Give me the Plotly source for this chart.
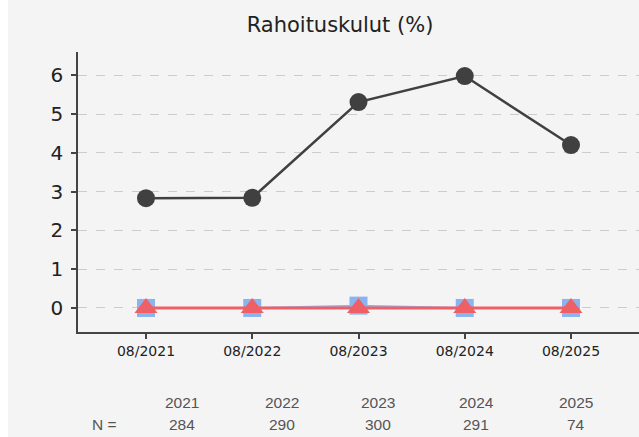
import plotly.graph_objects as go

# data
kaudet = ["08/2021", "08/2022", "08/2023", "08/2024", "08/2025"]
sarja_musta = [2.83, 2.84, 5.31, 5.98, 4.2]
sarja_sininen = [0.0, 0.0, 0.06, 0.0, 0.0]
sarja_punainen = [0.0, 0.0, 0.0, 0.0, 0.0]
vuodet = ["2021", "2022", "2023", "2024", "2025"]
n_arvot = ["284", "290", "300", "291", "74"]

# sivun vasen reunus (body margin) on 8 px
OFF = 8
W, H = 639 - OFF, 437
L, R, T, B = 78 - OFF, 0, 52, 105
pw = W - L - R
ph = H - T - B

fig = go.Figure()

fig.add_trace(go.Scatter(
    x=list(range(len(kaudet))), y=sarja_musta, mode="lines+markers",
    line=dict(color="#404040", width=2.5),
    marker=dict(symbol="circle", size=18, color="#404040"),
    showlegend=False, cliponaxis=False
))
fig.add_trace(go.Scatter(
    x=list(range(len(kaudet))), y=sarja_sininen, mode="lines+markers",
    line=dict(color="#8ab4f0", width=2),
    marker=dict(symbol="square", size=18, color="#8ab4f0"),
    showlegend=False, cliponaxis=False
))
fig.add_trace(go.Scatter(
    x=list(range(len(kaudet))), y=sarja_punainen, mode="lines+markers",
    line=dict(color="#ee6065", width=3),
    marker=dict(symbol="triangle-up", size=20, color="#ee6065"),
    showlegend=False, cliponaxis=False
))

# alataulukko (kuvakaappauksen pikseleinä)
taulu_fontti = dict(size=15.5, color="#555555", family="Liberation Sans")
px_x = [182, 282, 378, 476, 576]
for px, v, n in zip(px_x, vuodet, n_arvot):
    fig.add_annotation(x=(px - 78) / pw, y=-70 / ph, xref="paper", yref="paper",
                       text=v, showarrow=False, xanchor="center", yanchor="middle",
                       font=taulu_fontti)
    fig.add_annotation(x=(px - 78) / pw, y=-92 / ph, xref="paper", yref="paper",
                       text=n, showarrow=False, xanchor="center", yanchor="middle",
                       font=taulu_fontti)
fig.add_annotation(x=(104 - 78) / pw, y=-92 / ph, xref="paper", yref="paper",
                   text="N =", showarrow=False, xanchor="center", yanchor="middle",
                   font=taulu_fontti)

fig.update_layout(
    width=W, height=H,
    margin=dict(l=L, r=R, t=T, b=B),
    paper_bgcolor="#f4f4f4", plot_bgcolor="#f4f4f4",
    font=dict(family="DejaVu Sans", color="#222222"),
    title=dict(text="Rahoituskulut (%)", x=(340 - OFF) / W, xanchor="center",
               y=1 - 25 / H, yanchor="middle", font=dict(size=21, color="#222222")),
    xaxis=dict(
        tickmode="array", tickvals=list(range(len(kaudet))), ticktext=kaudet,
        range=[-0.64, 4.64], showgrid=False, zeroline=False,
        showline=True, linecolor="#444444", linewidth=1.5,
        ticks="outside", ticklen=5, tickcolor="#444444", tickwidth=1.5,
        tickfont=dict(size=14, color="#222222")
    ),
    yaxis=dict(
        range=[-0.62, 6.6], tickvals=[0, 1, 2, 3, 4, 5, 6],
        showgrid=True, gridcolor="#cccccc", griddash="dash", gridwidth=1,
        zeroline=False, showline=True, linecolor="#444444", linewidth=1.5,
        ticks="outside", ticklen=5, tickcolor="#444444", tickwidth=1.5,
        ticklabelstandoff=4,
        tickfont=dict(size=20, color="#222222")
    )
)

fig.write_html(
    "out.html",
    post_script="document.body.style.margin='0 0 0 8px';"
)
